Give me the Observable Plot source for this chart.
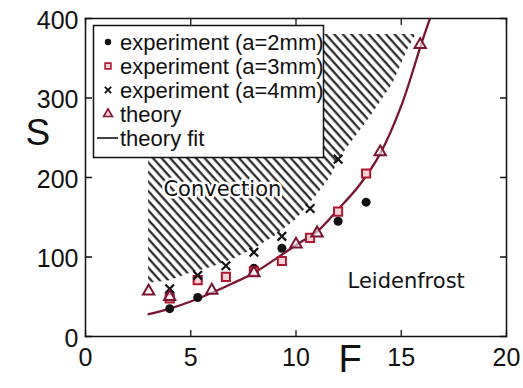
<!DOCTYPE html>
<html>
<head>
<meta charset="utf-8">
<script src="https://cdn.jsdelivr.net/npm/d3@7"></script>
<script src="https://cdn.jsdelivr.net/npm/@observablehq/plot@0.6"></script>
<style>
  body { margin: 0; background: #fff; }
  #chart { width: 523px; height: 388px; }
</style>
</head>
<body>
<div id="chart"></div>
<script>
// Measured onset of Leidenfrost behaviour: S against F
const fA2 = [4, 5.33, 8, 9.33, 12, 13.33];
const sA2 = [35, 49, 86, 111, 145, 169];

const fA3 = [4, 5.33, 6.67, 8, 9.33, 10.67, 12, 13.33];
const sA3 = [48, 71, 75, 82, 95, 124, 157, 205];

const fA4 = [4, 5.33, 6.67, 8, 9.33, 10.67, 12];
const sA4 = [60, 77, 89, 106, 126, 161, 223];

const fTheory = [3, 4, 6, 8, 10, 11, 14, 15.9];
const sTheory = [57, 50, 58, 80, 116, 130, 232, 367];

// fitted theory curve
const fFit = [3, 4, 5, 6, 7, 8, 9, 10, 11, 12, 13, 14, 15, 16, 16.5];
const sFit = [28, 35, 44, 55, 67, 80, 97, 115, 132, 160, 190, 230, 290, 372, 410];

// hatched convection region: lower boundary, flat top
const fConv = [3, 4, 5, 6, 7, 8, 9, 10, 11, 11.64, 12.1, 12.6, 13.5, 14.6, 15.3, 15.7];
const sConvLow = [67, 70, 80, 87, 97, 110, 126, 147, 178, 200, 225, 243, 275, 318, 360, 380];
const sConvTop = 380;

const xTicks = [0, 5, 10, 15, 20];
const yTicks = [0, 100, 200, 300, 400];

const legendLabels = ["experiment (a=2mm)", "experiment (a=3mm)", "experiment (a=4mm)", "theory", "theory fit"];

const red = "#b0182f";
const maroon = "#7a1430";
const zip = (xs, ys) => xs.map((x, i) => ({x, y: ys[i]}));

// short inward tick drawn from the frame edge
const tickShape = {draw(context, l) { context.moveTo(0, 0); context.lineTo(0, -l); }};
const inwardTicks = (values, channel, frameAnchor, rotate) =>
  Plot.vector(values, {[channel]: (d) => d, frameAnchor, rotate, length: 6, anchor: "start",
    shape: tickShape, stroke: "#111", strokeWidth: 1.3});

const plot = Plot.plot({
  width: 523,
  height: 388,
  marginLeft: 85,
  marginRight: 17,
  marginTop: 18,
  marginBottom: 52,
  x: {domain: [0, 20]},
  y: {domain: [0, 400]},
  style: {fontFamily: "'Liberation Sans', Arial, sans-serif", color: "#111", background: "white"},
  marks: [
    Plot.areaY(zip(fConv, sConvLow), {x: "x", y1: "y", y2: sConvTop, fill: "url(#hatch)"}),
    Plot.text(["Convection"], {x: 3.7, y: 185, textAnchor: "start", fontSize: 21, fontFamily: "'DejaVu Sans', sans-serif",
      fill: "#111", stroke: "white", strokeWidth: 5}),
    Plot.text(["Leidenfrost"], {x: 12.45, y: 70, textAnchor: "start", fontSize: 21, fontFamily: "'DejaVu Sans', sans-serif", fill: "#111"}),
    Plot.line(zip(fFit, sFit), {x: "x", y: "y", stroke: maroon, strokeWidth: 2.3, curve: "catmull-rom", clip: true}),
    Plot.dot(zip(fA2, sA2), {x: "x", y: "y", r: 4.5, fill: "#111", stroke: "none"}),
    Plot.dot(zip(fA3, sA3), {x: "x", y: "y", symbol: "square", r: 4.6, fill: "#f2d3d9", stroke: red, strokeWidth: 2}),
    Plot.dot(zip(fA4, sA4), {x: "x", y: "y", symbol: "times", r: 4, stroke: "#111", strokeWidth: 2.2}),
    Plot.dot(zip(fTheory, sTheory), {x: "x", y: "y", symbol: "triangle", r: 4.2, fill: "white", fillOpacity: 0.6, stroke: maroon, strokeWidth: 2}),
    Plot.frame({stroke: "#111", strokeWidth: 1.5}),
    Plot.axisX({ticks: xTicks, tickSize: 0, tickPadding: 12, fontSize: 25, label: null}),
    Plot.axisY({ticks: yTicks, tickSize: 0, tickPadding: 7, fontSize: 25, dy: 2, label: null}),
    inwardTicks(xTicks, "x", "bottom", 0),
    inwardTicks(xTicks, "x", "top", 180),
    inwardTicks(yTicks, "y", "left", 90),
    inwardTicks(yTicks, "y", "right", -90),
    Plot.text(["S"], {frameAnchor: "left", dx: -60, dy: -44, fontSize: 37, fill: "#111"}),
    Plot.text(["F"], {frameAnchor: "bottom", dx: 54, dy: 35, fontSize: 38, fill: "#111"})
  ]
});

document.getElementById("chart").appendChild(plot);

const svg = d3.select(plot);

// diagonal hatching for the convection region
const pattern = svg.insert("defs", ":first-child")
  .append("pattern")
  .attr("id", "hatch")
  .attr("patternUnits", "userSpaceOnUse")
  .attr("width", 6.4)
  .attr("height", 8)
  .attr("patternTransform", "rotate(-42)");
pattern.append("line")
  .attr("x1", 1.5).attr("y1", -1).attr("x2", 1.5).attr("y2", 9)
  .attr("stroke", "#1a1a1a").attr("stroke-width", 2.1);

// legend box inside the frame
const lg = svg.append("g")
  .attr("font-family", "'Liberation Sans', Arial, sans-serif")
  .attr("font-size", 22)
  .attr("text-anchor", "start")
  .attr("fill", "#111");
lg.append("rect")
  .attr("x", 93.5).attr("y", 25.5).attr("width", 230).attr("height", 132)
  .attr("fill", "white").attr("stroke", "#111").attr("stroke-width", 1.5);
const rowY = [42, 66, 90, 114, 138];
const symX = 108;
legendLabels.forEach((label, i) => {
  lg.append("text").attr("x", 120).attr("y", rowY[i]).attr("dy", "0.36em").text(label);
});
lg.append("path").attr("transform", `translate(${symX},${rowY[0]})`)
  .attr("d", d3.symbol(d3.symbolCircle, Math.PI * 3.2 * 3.2)()).attr("fill", "#111");
lg.append("path").attr("transform", `translate(${symX},${rowY[1]})`)
  .attr("d", d3.symbol(d3.symbolSquare, Math.PI * 3.3 * 3.3)()).attr("fill", "#f2d3d9").attr("stroke", red).attr("stroke-width", 1.6);
lg.append("path").attr("transform", `translate(${symX},${rowY[2]})`)
  .attr("d", d3.symbol(d3.symbolTimes, Math.PI * 3 * 3)()).attr("fill", "none").attr("stroke", "#111").attr("stroke-width", 1.8);
lg.append("path").attr("transform", `translate(${symX},${rowY[3]})`)
  .attr("d", d3.symbol(d3.symbolTriangle, Math.PI * 3.3 * 3.3)()).attr("fill", "#f2d3d9").attr("stroke", maroon).attr("stroke-width", 1.6);
lg.append("line").attr("x1", 97).attr("x2", 118).attr("y1", rowY[4]).attr("y2", rowY[4])
  .attr("stroke", "#111").attr("stroke-width", 1.6);
</script>
</body>
</html>
